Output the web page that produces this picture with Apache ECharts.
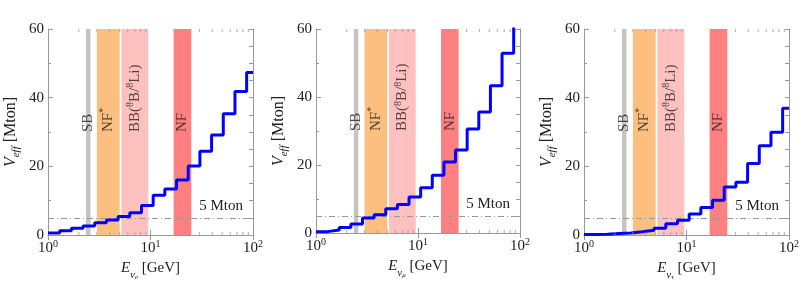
<!DOCTYPE html>
<html><head><meta charset="utf-8">
<script src="https://cdn.jsdelivr.net/npm/echarts@6/dist/echarts.min.js"></script>
<style>html,body{margin:0;padding:0;background:#fff}#c{width:803px;height:289px}</style>
</head><body><div id="c"></div>
<script>
// ---- data ----
const binEdges = [1.000, 1.300, 1.690, 2.198, 2.858, 3.715, 4.831, 6.281, 8.166, 10.62, 13.80, 17.95, 23.33, 30.34, 39.45, 51.29, 66.68, 86.70];
const xEnd = 100;
const vNuE   = [0.55, 1.25, 1.95, 2.65, 3.55, 4.35, 5.4, 6.5, 8.6, 11.6, 13.4, 16.0, 20.1, 24.4, 29.1, 35.3, 41.8, 47.3];
const vNuMu  = [0.4, 0.9, 1.65, 2.65, 4.4, 5.4, 7.1, 8.4, 10.6, 13.3, 17.0, 20.9, 24.4, 30.6, 35.6, 43.3, 52.9, 65.0];
const vNuTau = [0.15, 0.2, 0.45, 0.55, 0.95, 1.4, 2.0, 3.3, 4.3, 6.1, 8.0, 10.1, 14.0, 15.4, 20.8, 26.0, 29.9, 36.9];
const flavours = ['e', 'μ', 'τ'];
const bandSB = [2.35, 2.6];
const bandNFstar = [3, 5];
const bandBB = [5.2, 9.5];
const bandNF = [16.8, 25];
const refLevel = 5;
const refText = '5 Mton';
const xMinorTicks = [2, 3, 4, 5, 6, 7, 8, 9, 20, 30, 40, 50, 60, 70, 80, 90];
const yMin = 0, yMax = 60;
const labelLevel = 30;

// ---- styling ----
const FONT = '"Liberation Serif", "DejaVu Serif", serif';
const TXT = '#222';
const FRAME = '#999';
const grids = [
  {left: 48, top: 29, width: 205, height: 206},
  {left: 316, top: 29, width: 204, height: 204},
  {left: 584, top: 29, width: 205, height: 206}
];
const bandStyles = [
  {range: bandSB, color: '#c4c4c4', text: '{t|SB}'},
  {range: bandNFstar, color: '#fdbf80', text: '{t|NF}{sup|*}'},
  {range: bandBB, color: '#ffc0c0', text: '{t|BB(}{sup|8}{t|B/}{sup|8}{t|Li)}'},
  {range: bandNF, color: '#ff8080', text: '{t|NF}'}
];

const xAxis = [], yAxis = [], series = [];
const allV = [vNuE, vNuMu, vNuTau];

grids.forEach((g, i) => {
  xAxis.push({
    type: 'log', gridIndex: i, min: 1, max: 100, logBase: 10, position: 'bottom',
    axisLine: {show: true, lineStyle: {color: FRAME, width: 1}},
    axisTick: {show: true, inside: true, length: 5, lineStyle: {color: FRAME}},
    splitLine: {show: false},
    axisLabel: {
      margin: 4,
      formatter: v => '{b|10}{sup|' + Math.round(Math.log10(v)) + '}',
      rich: {
        b: {fontFamily: FONT, fontSize: 15, color: TXT, lineHeight: 19},
        sup: {fontFamily: FONT, fontSize: 10, color: TXT, verticalAlign: 'top', lineHeight: 10}
      }
    },
    name: '{i|E}{s|ν}{ss|' + flavours[i] + '}{t| [GeV]}',
    nameLocation: 'middle', nameGap: 19,
    nameTextStyle: {
      rich: {
        i: {fontFamily: FONT, fontStyle: 'italic', fontSize: 15, color: TXT, lineHeight: 24},
        s: {fontFamily: FONT, fontStyle: 'italic', fontSize: 11, color: TXT, verticalAlign: 'bottom', lineHeight: 14},
        ss: {fontFamily: FONT, fontStyle: 'italic', fontSize: 7, color: TXT, verticalAlign: 'bottom', lineHeight: 8},
        t: {fontFamily: FONT, fontSize: 15, color: TXT, lineHeight: 24}
      }
    }
  });
  xAxis.push({
    type: 'log', gridIndex: i, min: 1, max: 100, logBase: 10, position: 'top',
    axisLine: {show: true, lineStyle: {color: FRAME, width: 1}},
    axisTick: {show: true, inside: true, length: 5, lineStyle: {color: FRAME}},
    splitLine: {show: false}, axisLabel: {show: false}
  });
  yAxis.push({
    type: 'value', gridIndex: i, min: yMin, max: yMax, interval: 20, position: 'left',
    axisLine: {show: true, lineStyle: {color: FRAME, width: 1}},
    axisTick: {show: true, inside: true, length: 5, lineStyle: {color: FRAME}},
    minorTick: {show: true, splitNumber: 2, length: 3, lineStyle: {color: FRAME}},
    splitLine: {show: false},
    axisLabel: {fontFamily: FONT, fontSize: 15, color: TXT, margin: 4},
    name: '{i|V}{s|eff}{t| [Mton]}',
    nameLocation: 'middle', nameGap: 26, nameRotate: 90,
    nameTextStyle: {
      rich: {
        i: {fontFamily: FONT, fontStyle: 'italic', fontSize: 16, color: TXT, lineHeight: 22},
        s: {fontFamily: FONT, fontStyle: 'italic', fontSize: 11, color: TXT, verticalAlign: 'bottom', lineHeight: 14},
        t: {fontFamily: FONT, fontSize: 16, color: TXT, lineHeight: 22}
      }
    }
  });
  yAxis.push({
    type: 'value', gridIndex: i, min: yMin, max: yMax, interval: 5, position: 'right',
    axisLine: {show: true, lineStyle: {color: FRAME, width: 1}},
    axisTick: {show: true, inside: true, length: 4, lineStyle: {color: FRAME}},
    splitLine: {show: false}, axisLabel: {show: false}
  });

  // bands
  series.push({
    type: 'line', xAxisIndex: 2 * i, yAxisIndex: 2 * i, data: [], silent: true, z: 1,
    markArea: {
      silent: true,
      data: bandStyles.map(b => [
        {xAxis: b.range[0], itemStyle: {color: b.color}},
        {xAxis: b.range[1]}
      ])
    }
  });

  // step line
  const v = allV[i];
  const pts = binEdges.map((e, k) => [e, v[k]]);
  pts.push([xEnd, v[v.length - 1]]);
  series.push({
    type: 'line', xAxisIndex: 2 * i, yAxisIndex: 2 * i, step: 'end', data: pts,
    symbol: 'none', z: 5, silent: true,
    lineStyle: {color: '#0000ff', width: 3},
    markLine: {
      silent: true, symbol: 'none', z: 3,
      lineStyle: {color: '#999', width: 1, type: [6, 3, 1, 3]},
      label: {
        show: true, position: 'insideEndTop', formatter: refText, distance: [10, 4],
        fontFamily: FONT, fontSize: 15, color: TXT
      },
      data: [{yAxis: refLevel}]
    }
  });

  // band labels
  series.push({
    type: 'scatter', xAxisIndex: 2 * i, yAxisIndex: 2 * i, silent: true, z: 6,
    symbolSize: 1, itemStyle: {color: 'rgba(0,0,0,0)'},
    data: bandStyles.map(b => ({
      value: [Math.sqrt(b.range[0] * b.range[1]), labelLevel],
      label: {formatter: b.text}
    })),
    label: {
      show: true, position: 'inside', rotate: 90, align: 'left', verticalAlign: 'middle',
      rich: {
        t: {fontFamily: FONT, fontSize: 15, color: TXT, lineHeight: 19},
        sup: {fontFamily: FONT, fontSize: 10, color: TXT, verticalAlign: 'top', lineHeight: 10}
      }
    }
  });

  // minor x ticks bottom & top
  series.push({
    type: 'scatter', xAxisIndex: 2 * i, yAxisIndex: 2 * i, silent: true, z: 7, clip: false,
    symbol: 'rect', symbolSize: [1, 3], symbolOffset: [0, -1.5],
    itemStyle: {color: FRAME},
    data: xMinorTicks.map(t => [t, yMin])
  });
  series.push({
    type: 'scatter', xAxisIndex: 2 * i, yAxisIndex: 2 * i, silent: true, z: 7, clip: false,
    symbol: 'rect', symbolSize: [1, 3], symbolOffset: [0, 1.5],
    itemStyle: {color: FRAME},
    data: xMinorTicks.map(t => [t, yMax])
  });
});

const chart = echarts.init(document.getElementById('c'), null, {renderer: 'canvas'});
chart.setOption({
  animation: false,
  backgroundColor: '#fff',
  grid: grids,
  xAxis: xAxis,
  yAxis: yAxis,
  series: series
});
</script>
</body></html>
